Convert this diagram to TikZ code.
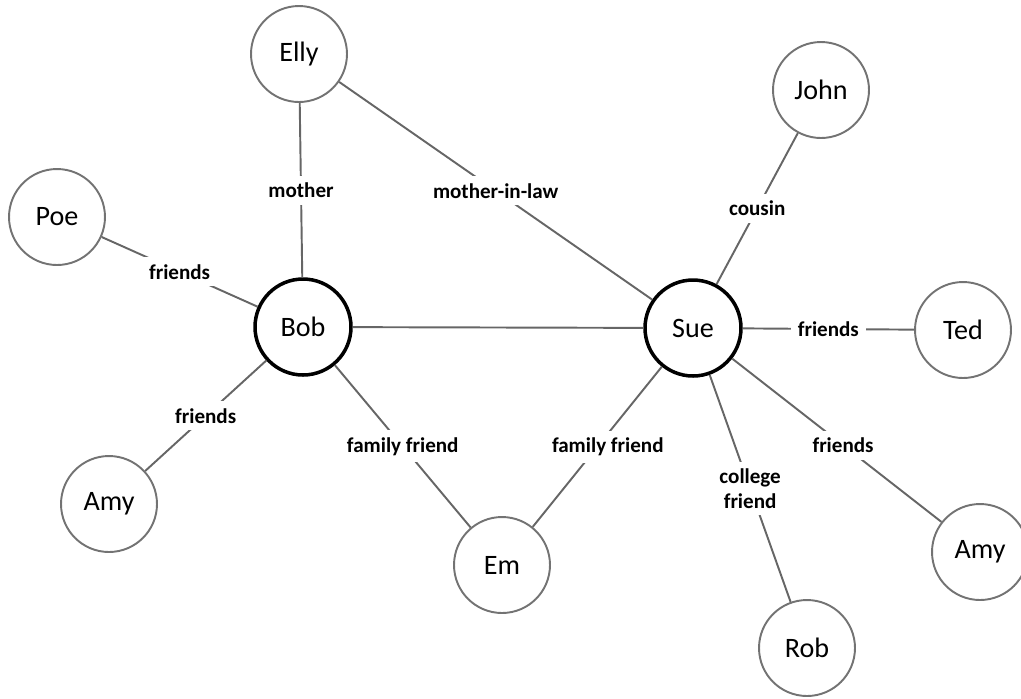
\documentclass[tikz,border=0pt]{standalone}
\usepackage{fontspec}
\setmainfont{Carlito}

\begin{document}
\begin{tikzpicture}[x=0.02cm, y=-0.02cm,
  person/.style={circle, draw=black!55, line width=1.1pt, minimum size=1.92cm,
    inner sep=0pt, font=\fontsize{16}{18}\selectfont},
  keyperson/.style={person, draw=black, line width=2pt},
  rel/.style={draw=black!60, line width=1.1pt},
  lbl/.style={fill=white, inner sep=4pt, align=center,
    font=\bfseries\fontsize{12}{14}\selectfont}]
	%%%%% START %%%%%
	\useasboundingbox (0, 0) rectangle (1021, 698);
	
	\node[keyperson] (bob) at (303, 327) {Bob};
	\node[keyperson] (sue) at (693, 328) {Sue};
	
	\node[person] (elly) at (299, 54) {Elly};
	\node[person] (poe) at (57, 217) {Poe};
	\node[person] (amyl) at (109, 504) {Amy};
	\node[person] (em) at (502, 565) {Em};
	\node[person] (john) at (821, 90) {John};
	\node[person] (ted) at (963, 330) {Ted};
	\node[person] (rob) at (807, 648) {Rob};
	\node[person] (amyr) at (980, 552) {Amy};
	
	% Bob side
	\draw[rel] (elly) -- node[lbl] {mother} (bob);
	\draw[rel] (poe) -- node[lbl] {friends} (bob);
	\draw[rel] (bob) -- node[lbl] {friends} (amyl);
	\draw[rel] (bob) -- node[lbl] {family friend} (em);
	\draw[rel] (bob) -- (sue);
	
	% Sue side
	\draw[rel] (elly) -- node[lbl] {mother-in-law} (sue);
	\draw[rel] (sue) -- node[lbl] {cousin} (john);
	\draw[rel] (sue) -- node[lbl] {friends} (ted);
	\draw[rel] (sue) -- node[lbl, pos=0.53] {friends} (amyr);
	\draw[rel] (sue) -- node[lbl] {college\\friend} (rob);
	\draw[rel] (sue) -- node[lbl, xshift=6pt] {family friend} (em);
	
	%%%%% END %%%%%
\end{tikzpicture}
\end{document}
